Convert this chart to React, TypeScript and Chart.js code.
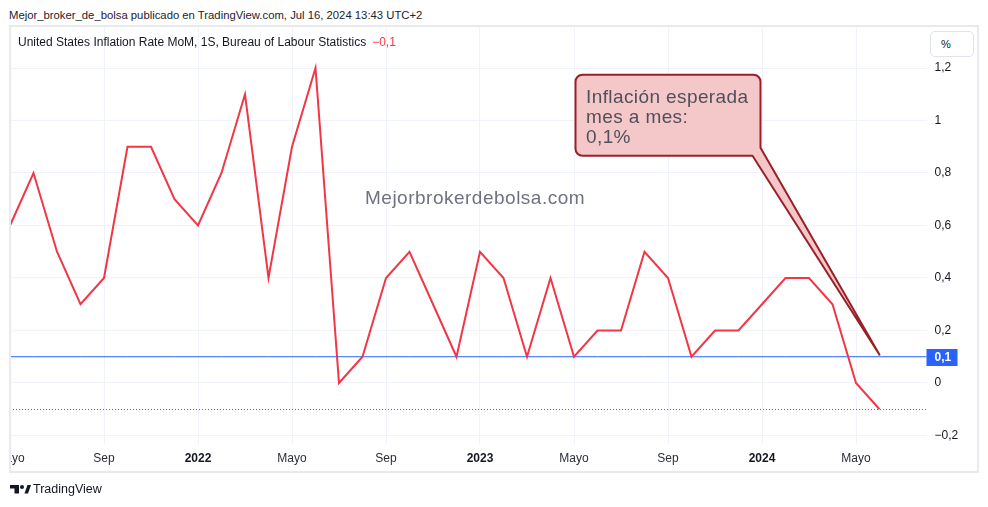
import React, { useEffect, useRef } from 'react';
import { Chart, registerables } from 'chart.js';

Chart.register(...registerables);

// ---- data ----
const months = [
  '2021-05', '2021-06', '2021-07', '2021-08', '2021-09', '2021-10', '2021-11', '2021-12',
  '2022-01', '2022-02', '2022-03', '2022-04', '2022-05', '2022-06', '2022-07', '2022-08',
  '2022-09', '2022-10', '2022-11', '2022-12', '2023-01', '2023-02', '2023-03', '2023-04',
  '2023-05', '2023-06', '2023-07', '2023-08', '2023-09', '2023-10', '2023-11', '2023-12',
  '2024-01', '2024-02', '2024-03', '2024-04', '2024-05', '2024-06', '2024-07', '2024-08',
];
const inflationMoM = [
  0.6, 0.8, 0.5, 0.3, 0.4, 0.9, 0.9, 0.7,
  0.6, 0.8, 1.1, 0.4, 0.9, 1.2, 0.0, 0.1,
  0.4, 0.5, 0.3, 0.1, 0.5, 0.4, 0.1, 0.4,
  0.1, 0.2, 0.2, 0.5, 0.4, 0.1, 0.2, 0.2,
  0.3, 0.4, 0.4, 0.3, 0.0, -0.1,
];
const timeTicks = ['Mayo', 'Sep', '2022', 'Mayo', 'Sep', '2023', 'Mayo', 'Sep', '2024', 'Mayo'];
const tickEvery = 4;
const priceTicks = [-0.2, 0, 0.2, 0.4, 0.6, 0.8, 1, 1.2];
const yMin = -0.2324;
const yMax = 1.3562;
const expectedValue = 0.1;
const lastValue = -0.1;
const calloutIndex = 37;

const FONT = "'Liberation Sans', Arial, sans-serif";
const fmt = (v: number) => {
  const s = String(Math.round(v * 10) / 10).replace('.', ',');
  return s.startsWith('-') ? '\u2212' + s.slice(1) : s;
};
const isYear = (s: string | undefined) => !!s && /^\d{4}$/.test(s);

const overlayPlugin = {
  id: 'tvOverlay',
  afterDatasetsDraw(chart: any) {
    const { ctx, scales, chartArea } = chart;
    // last-value dotted price line (pixel-snapped)
    const yr = Math.round(scales.y.getPixelForValue(lastValue));
    ctx.save();
    ctx.fillStyle = '#f23645';
    for (let x = Math.ceil(chartArea.left); x < chartArea.right; x += 3) {
      ctx.fillRect(x, yr, 1, 1);
    }
    ctx.restore();

    const tipX = scales.x.getPixelForValue(calloutIndex);
    const tipY = scales.y.getPixelForValue(expectedValue) - 2;
    const L = tipX - 304, R = tipX - 119, T = tipY - 280, B = tipY - 199, r = 7;
    ctx.save();
    ctx.beginPath();
    ctx.moveTo(L + r, T);
    ctx.lineTo(R - r, T);
    ctx.arcTo(R, T, R, T + r, r);
    ctx.lineTo(R, B - 8);
    ctx.lineTo(tipX, tipY);
    ctx.lineTo(R - 8, B);
    ctx.lineTo(L + r, B);
    ctx.arcTo(L, B, L, B - r, r);
    ctx.lineTo(L, T + r);
    ctx.arcTo(L, T, L + r, T, r);
    ctx.closePath();
    ctx.fillStyle = '#f4c7c9';
    ctx.fill();
    ctx.strokeStyle = '#992027';
    ctx.lineWidth = 2;
    ctx.lineJoin = 'round';
    ctx.stroke();
    ctx.restore();
  },
  afterDraw(chart: any) {
    const { ctx, chartArea, scales } = chart;
    ctx.save();
    // year labels on the time axis, drawn bold
    ctx.font = `bold 12px ${FONT}`;
    ctx.fillStyle = '#131722';
    ctx.textAlign = 'center';
    ctx.textBaseline = 'middle';
    timeTicks.forEach((t, k) => {
      if (!isYear(t)) return;
      const x = scales.x.getPixelForValue(k * tickEvery);
      ctx.fillText(t, x, scales.x.top + 14.2);
    });
    // blue price label
    const yc = scales.y.getPixelForValue(expectedValue);
    ctx.fillStyle = '#2962ff';
    ctx.fillRect(chartArea.right, Math.round(yc) - 8, 31, 17);
    ctx.fillStyle = '#ffffff';
    ctx.textAlign = 'left';
    ctx.fillText(fmt(expectedValue), chartArea.right + 8, Math.round(yc) + 0.5);
    ctx.restore();
  },
};

function TradingChart() {
  const ref = useRef<HTMLCanvasElement | null>(null);
  useEffect(() => {
    if (!ref.current) return;
    const chart = new Chart(ref.current, {
      type: 'line',
      data: {
        labels: months,
        datasets: [
          {
            data: inflationMoM,
            borderColor: '#f23645',
            borderWidth: 2,
            pointRadius: 0,
            tension: 0,
            fill: false,
            order: 0,
          },
          {
            data: months.map(() => expectedValue),
            borderColor: '#2962ff',
            borderWidth: 1,
            pointRadius: 0,
            fill: false,
            order: 1,
          },
        ],
      },
      options: {
        animation: false,
        responsive: false,
        maintainAspectRatio: false,
        layout: { padding: { left: 1, right: 0, top: 0, bottom: 0 } },
        plugins: { legend: { display: false }, tooltip: { enabled: false } },
        scales: {
          x: {
            type: 'category',
            offset: false,
            border: { display: false },
            grid: { color: '#f0f3fa', drawTicks: false, lineWidth: 1 },
            afterFit: (s: any) => {
              s.height = 28;
              s.paddingLeft = 0;
              s.paddingRight = 0;
            },
            ticks: {
              autoSkip: false,
              maxRotation: 0,
              minRotation: 0,
              padding: 7,
              color: '#2a2e39',
              font: { family: FONT, size: 12 },
              callback: (_v: any, i: number) => {
                if (i % tickEvery !== 0) return null;
                const t = timeTicks[i / tickEvery];
                if (!t) return null;
                return isYear(t) ? ' ' : t;
              },
            },
          },
          y: {
            type: 'linear',
            position: 'right',
            min: yMin,
            max: yMax,
            border: { display: false },
            grid: { color: '#f0f3fa', drawTicks: false, lineWidth: 1 },
            afterBuildTicks: (s: any) => {
              s.ticks = priceTicks.map((v) => ({ value: v }));
            },
            afterFit: (s: any) => {
              s.width = 51.5;
              s.paddingTop = 0;
              s.paddingBottom = 0;
            },
            ticks: {
              padding: 8,
              color: '#131722',
              font: { family: FONT, size: 12 },
              callback: (v: any) => fmt(Number(v)),
            },
          },
        },
      },
      plugins: [overlayPlugin],
    } as any);
    return () => chart.destroy();
  }, []);
  return (
    <canvas
      ref={ref}
      width={969}
      height={445}
      style={{ position: 'absolute', left: 9, top: 27, width: 969, height: 445 }}
    />
  );
}

export default function App() {
  const abs: React.CSSProperties = { position: 'absolute', whiteSpace: 'nowrap', fontFamily: FONT };
  return (
    <div style={{ position: 'absolute', left: 0, top: 0, width: 988, height: 507, background: '#ffffff', overflow: 'hidden' }}>
      <div style={{ ...abs, left: 9, top: 8, fontSize: 11.3, lineHeight: '14px', color: '#1e222d' }}>
        Mejor_broker_de_bolsa publicado en TradingView.com, Jul 16, 2024 13:43 UTC+2
      </div>
      <TradingChart />
      <div style={{ position: 'absolute', left: 0, top: 440, width: 9, height: 40, background: '#ffffff' }} />
      <div
        style={{
          position: 'absolute', left: 9, top: 25, width: 970, height: 448,
          border: '2px solid #e8eaf0', boxSizing: 'border-box', pointerEvents: 'none',
        }}
      />
      <div style={{ ...abs, left: 18, top: 35, fontSize: 12, lineHeight: '14px', color: '#131722' }}>
        United States Inflation Rate MoM, 1S, Bureau of Labour Statistics
        <span style={{ color: '#f23645', marginLeft: 6 }}>{fmt(lastValue)}</span>
      </div>
      <div
        style={{
          position: 'absolute', left: 930, top: 31, width: 44, height: 26, boxSizing: 'border-box',
          border: '1px solid #e0e3eb', borderRadius: 5, background: '#ffffff',
          fontFamily: FONT, fontSize: 11, lineHeight: '24px', paddingLeft: 10, color: '#131722',
        }}
      >
        %
      </div>
      <div style={{ ...abs, left: 365, top: 187, fontSize: 19, lineHeight: '22px', letterSpacing: 0.5, color: '#6f7280' }}>
        Mejorbrokerdebolsa.com
      </div>
      <div style={{ ...abs, left: 586, top: 87, fontSize: 19, lineHeight: '20px', letterSpacing: 0.4, color: '#50505c' }}>
        <div>Inflación esperada</div>
        <div>mes a mes:</div>
        <div>0,1%</div>
      </div>
      <svg style={{ position: 'absolute', left: 0, top: 470 }} width={40} height={37}>
        <path d="M10 15 H19 V23.5 H14.5 V18.5 H10 Z" fill="#131722" />
        <circle cx={22} cy={17} r={2} fill="#131722" />
        <path d="M24.5 23.5 L27.5 15 H31 L28 23.5 Z" fill="#131722" />
      </svg>
      <div style={{ ...abs, left: 33, top: 482, fontSize: 12.5, lineHeight: '15px', color: '#131722' }}>TradingView</div>
    </div>
  );
}
